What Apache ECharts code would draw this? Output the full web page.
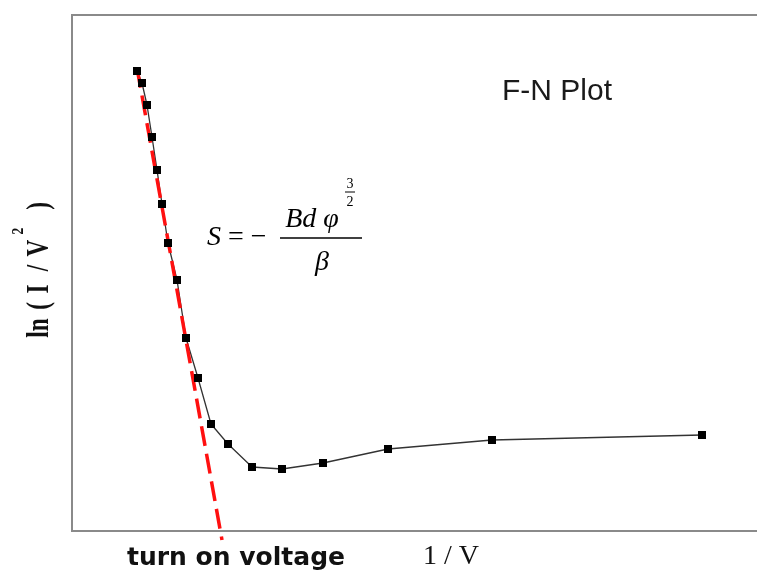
<!DOCTYPE html>
<html>
<head>
<meta charset="utf-8" />
<title>F-N Plot</title>
<style>
html, body { margin: 0; padding: 0; background: #fff; }
#chart { width: 757px; height: 573px; }
</style>
</head>
<body>
<div id="chart"></div>
<script src="https://cdn.jsdelivr.net/npm/echarts@6/dist/echarts.min.js"></script>
<script>
// 1/V (arbitrary units) and ln(I/V^2)
var invV = [0.65, 0.70, 0.75, 0.80, 0.85, 0.90, 0.96, 1.05, 1.14, 1.26, 1.39, 1.56, 1.80, 2.10, 2.51, 3.16, 4.20, 6.30];
var lnIV2 = [4.60, 4.48, 4.26, 3.94, 3.61, 3.27, 2.88, 2.51, 1.93, 1.53, 1.07, 0.87, 0.64, 0.62, 0.68, 0.82, 0.91, 0.96];
// fitted straight line (red dashes)
var fitX = [0.65, 1.50];
var fitY = [4.63, -0.09];

var xRange = [0, 6.93];
var yRange = [0, 5.16];

var fnData = invV.map(function (x, i) { return [x, lnIV2[i]]; });
var fitData = fitX.map(function (x, i) { return [x, fitY[i]]; });

var chart = echarts.init(document.getElementById('chart'));

var serif = '"Liberation Serif", "DejaVu Serif", serif';

// y axis title, written piece by piece (reads upward)
var yTitle = [
    { t: 'ln', y: 328 }, { t: '(', y: 306 }, { t: 'I', y: 289 },
    { t: '/', y: 268 }, { t: 'V', y: 248 }, { t: ')', y: 206 }
];
var yTitleGraphics = yTitle.map(function (p) {
    return {
        type: 'text', x: 40, y: p.y, rotation: Math.PI / 2, scaleX: 0.75,
        style: { text: p.t, font: 'bold 31px ' + serif, fill: '#111', align: 'center', verticalAlign: 'middle' }
    };
});
yTitleGraphics.push({
    type: 'text', x: 19, y: 231, rotation: Math.PI / 2, scaleX: 0.8,
    style: { text: '2', font: 'bold 17px ' + serif, fill: '#111', align: 'center', verticalAlign: 'middle' }
});

var option = {
    animation: false,
    backgroundColor: '#ffffff',
    grid: {
        left: 72, right: -8, top: 15, bottom: 42,
        show: true, borderColor: '#8a8a8a', borderWidth: 2,
        containLabel: false, outerBoundsMode: 'none'
    },
    xAxis: {
        type: 'value', min: xRange[0], max: xRange[1],
        axisLine: { show: true, lineStyle: { color: '#8a8a8a', width: 2 } },
        axisTick: { show: false }, axisLabel: { show: false }, splitLine: { show: false }
    },
    yAxis: {
        type: 'value', min: yRange[0], max: yRange[1],
        axisLine: { show: true, lineStyle: { color: '#8a8a8a', width: 2 } },
        axisTick: { show: false }, axisLabel: { show: false }, splitLine: { show: false }
    },
    series: [
        {
            type: 'line',
            data: fnData,
            symbol: 'rect',
            symbolSize: 8,
            itemStyle: { color: '#000' },
            lineStyle: { color: '#333', width: 1.3 }
        },
        {
            type: 'line',
            data: fitData,
            symbol: 'none',
            clip: false,
            lineStyle: { color: '#ff1010', width: 3.5, type: [20, 8] },
            z: 3
        }
    ],
    graphic: [
        { type: 'text', left: 502, top: 77, style: { text: 'F-N Plot', font: '30px "Liberation Sans", Arial, sans-serif', fill: '#1a1a1a' } },
        { type: 'text', x: 236, y: 558, style: { text: 'turn on voltage', font: 'bold 25px "DejaVu Sans", sans-serif', fill: '#111', align: 'center', verticalAlign: 'middle' } },
        { type: 'text', x: 451, y: 557, style: { text: '1 / V', font: '28px ' + serif, fill: '#111', align: 'center', verticalAlign: 'middle' } },
        // formula S = -Bd phi^(3/2) / beta
        { type: 'rect', shape: { x: 200, y: 170, width: 182, height: 118 }, style: { fill: '#ffffff' }, z: -1 },
        { type: 'text', x: 207, y: 238, style: { text: '{i|S} = −', font: '28px ' + serif, fill: '#000', verticalAlign: 'middle', rich: { i: { font: 'italic 28px ' + serif } } } },
        { type: 'text', x: 312, y: 220, style: { text: 'Bd φ', font: 'italic 28px ' + serif, fill: '#000', align: 'center', verticalAlign: 'middle' } },
        { type: 'text', x: 350, y: 184, style: { text: '3', font: '14px ' + serif, fill: '#000', align: 'center', verticalAlign: 'middle' } },
        { type: 'line', shape: { x1: 345, y1: 192, x2: 355, y2: 192 }, style: { stroke: '#000', lineWidth: 1 } },
        { type: 'text', x: 350, y: 202, style: { text: '2', font: '14px ' + serif, fill: '#000', align: 'center', verticalAlign: 'middle' } },
        { type: 'line', shape: { x1: 280, y1: 238, x2: 362, y2: 238 }, style: { stroke: '#000', lineWidth: 1.5 } },
        { type: 'text', x: 322, y: 263, style: { text: 'β', font: 'italic 28px ' + serif, fill: '#000', align: 'center', verticalAlign: 'middle' } }
    ].concat(yTitleGraphics)
};

chart.setOption(option);
</script>
</body>
</html>
